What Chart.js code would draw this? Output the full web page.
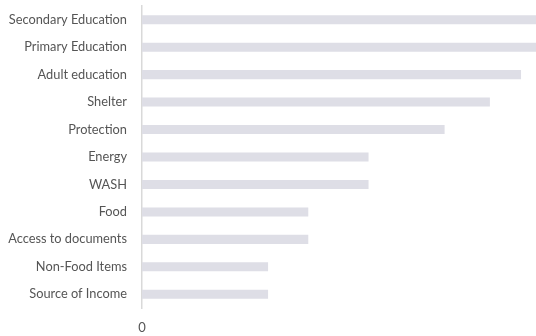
<!DOCTYPE html>
<html>
<head>
<meta charset="utf-8">
<script src="https://cdn.jsdelivr.net/npm/chart.js@4/dist/chart.umd.min.js"></script>
<style>
html,body{margin:0;padding:0;background:#fff;}
#wrap{width:536px;height:336px;position:relative;}
</style>
</head>
<body>
<div id="wrap"><canvas id="c" width="536" height="336"></canvas></div>
<script>
const categories = ["Secondary Education","Primary Education","Adult education","Shelter","Protection","Energy","WASH","Food","Access to documents","Non-Food Items","Source of Income"];
const values = [100, 100, 96.2, 88.3, 76.8, 57.5, 57.5, 42.2, 42.2, 32, 32];
const xTicks = [0];

new Chart(document.getElementById('c'), {
  type: 'bar',
  data: {
    labels: categories,
    datasets: [{
      data: values,
      backgroundColor: '#dedee6',
      borderWidth: 0,
      categoryPercentage: 1,
      barPercentage: 0.33
    }]
  },
  options: {
    indexAxis: 'y',
    responsive: false,
    animation: false,
    layout: { padding: { top: 6, right: 0, bottom: 0, left: 0 } },
    plugins: { legend: { display: false }, tooltip: { enabled: false } },
    scales: {
      x: {
        min: 0, max: 100,
        grid: { display: false, drawTicks: false },
        border: { display: false },
        ticks: {
          stepSize: 100,
          padding: 12,
          color: '#555555',
          font: { family: 'Lato', size: 13 },
          maxRotation: 0,
          callback: (v) => xTicks.includes(v) ? String(v) : ''
        },
        afterFit: (s) => { s.paddingRight = 0; s.paddingLeft = 0; s.height = 28; }
      },
      y: {
        grid: { display: false, drawTicks: false },
        border: { display: true, color: '#d9d9d9', width: 1.5 },
        ticks: {
          padding: 15,
          color: '#555555',
          font: { family: 'Lato', size: 12.8 }
        },
        afterFit: (s) => { s.paddingTop = 0; s.paddingBottom = 0; s.width = 142; }
      }
    }
  }
});
</script>
</body>
</html>
